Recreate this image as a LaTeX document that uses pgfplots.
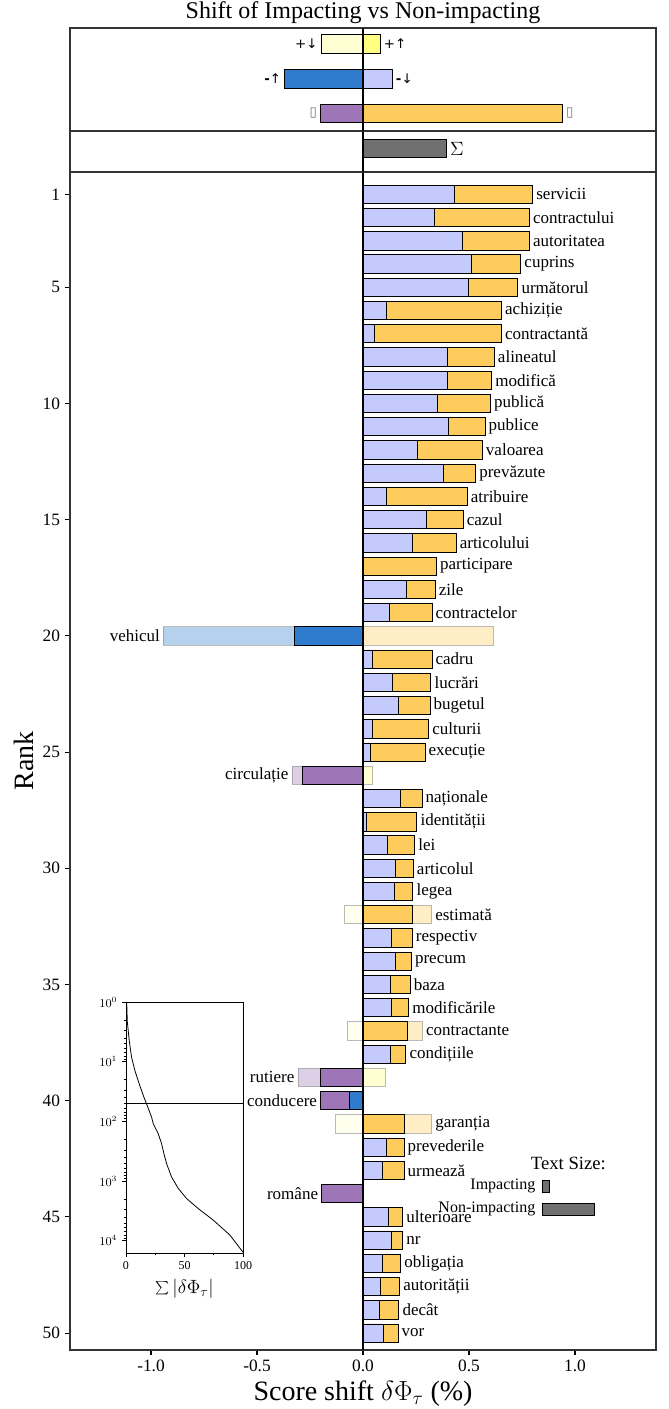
\documentclass[border=0pt]{standalone}
\usepackage{pgfplots}
\pgfplotsset{compat=1.18}
\usepackage{pgfplotstable}
\usepackage{fontspec}
\setmainfont{Liberation Serif}
\newfontfamily\symf{DejaVu Sans}
\newcommand\fs[1]{\fontsize{#1}{#1}\selectfont}
\definecolor{lav}{HTML}{C4CAFC}
\definecolor{orng}{HTML}{FECC5D}
\definecolor{purp}{HTML}{9E75B7}
\definecolor{dblue}{HTML}{2F7CCE}
\definecolor{yel}{HTML}{FFFF80}
\definecolor{lyel}{HTML}{FDFFD2}
\definecolor{totc}{HTML}{707070}

\pgfplotstableread{
rank lav tot word
1 0.430 0.800 servicii
2 0.335 0.785 contractului
3 0.467 0.785 autoritatea
4 0.509 0.744 cuprins
5 0.498 0.730 următorul
6 0.108 0.653 achiziție
7 0.055 0.653 contractantă
8 0.399 0.619 alineatul
9 0.397 0.607 modifică
10 0.351 0.601 publică
11 0.401 0.575 publice
12 0.256 0.5625 valoarea
13 0.377 0.531 prevăzute
14 0.108 0.491 atribuire
15 0.301 0.472 cazul
16 0.233 0.439 articolului
17 0.004 0.346 participare
18 0.204 0.340 zile
19 0.125 0.325 contractelor
21 0.042 0.325 cadru
22 0.138 0.320 lucrări
23 0.169 0.316 bugetul
24 0.042 0.309 culturii
25 0.033 0.292 execuție
27 0.178 0.278 naționale
28 0.015 0.254 identității
29 0.114 0.244 lei
30 0.153 0.237 articolul
31 0.147 0.235 legea
33 0.134 0.232 respectiv
34 0.153 0.228 precum
35 0.129 0.222 baza
36 0.136 0.215 modificările
38 0.127 0.202 condițiile
42 0.110 0.193 prevederile
43 0.090 0.193 urmează
45 0.118 0.1875 ulterioare
46 0.132 0.1875 nr
47 0.090 0.178 obligația
48 0.081 0.173 autorității
49 0.077 0.169 decât
50 0.094 0.165 vor
}\mainwords

\pgfplotstableread{
x y word
0.324 32 estimată
0.281 37 contractante
0.324 41 garanția
}\speclabR

\pgfplotstableread{
x y word
-0.941 20 vehicul
-0.335 26 circulație
-0.307 39 rutiere
-0.200 40 conducere
-0.195 44 române
}\speclabL

\pgfplotsset{
  wbar/.style={xbar, bar shift=0pt, bar width=13.7pt, draw=black, line width=0.6pt},
  fbar/.style={xbar, bar shift=0pt, bar width=13.7pt, draw=black!45, line width=0.6pt, fill opacity=0.35, draw opacity=0.6},
  frame/.style={axis line style={black!80, line width=0.9pt}},
  nR/.style={every node near coord/.append style={anchor=west, font=#1, text=black, inner sep=2.5pt}},
  nL/.style={every node near coord/.append style={anchor=east, font=#1, text=black, inner sep=2.5pt}},
}

\begin{document}
\begin{tikzpicture}
\path[use as bounding box] (-52.5pt,-44.25pt) rectangle (448.5pt,1012.5pt);

% ---------------- main panel ----------------
\begin{axis}[at={(0,0)}, anchor=south west, scale only axis,
  width=439.5pt, height=883.5pt, frame,
  xmin=-1.382, xmax=1.382, ymin=0.04, ymax=50.73, y dir=reverse,
  xtick={-1,-0.5,0,0.5,1}, xticklabels={-1.0,-0.5,0.0,0.5,1.0},
  ytick={1,5,10,15,20,25,30,35,40,45,50},
  yticklabels={1,5,10,15,20,25,30,35,40,45,50},
  tick align=outside, xtick pos=left, ytick pos=left,
  major tick length=4pt, tick style={black, line width=0.8pt},
  ticklabel style={font=\fs{13}},
  xlabel={Score shift $\delta\Phi_\tau$ (\%)}, ylabel={Rank},
  label style={font=\fs{21}},
  clip=false]
% faded components
\addplot[fbar, fill=dblue] coordinates {(-0.941,20)};
\addplot[fbar, fill=orng] coordinates {(0.614,20) (0.324,32) (0.281,37) (0.324,41)};
\addplot[fbar, fill=purp] coordinates {(-0.335,26) (-0.307,39)};
\addplot[fbar, fill=yel] coordinates {(0.046,26) (0.107,39)};
\addplot[fbar, fill=yel!40] coordinates {(-0.090,32) (-0.075,37) (-0.129,41)};
% solid components
\addplot[wbar, fill=orng] coordinates {(0.235,32) (0.208,37) (0.197,41)};
\addplot[wbar, fill=purp] coordinates {(-0.287,26) (-0.200,39) (-0.200,40) (-0.195,44)};
\addplot[wbar, fill=dblue] coordinates {(-0.325,20) (-0.0625,40)};
% regular words
\addplot[wbar, fill=orng, nodes near coords, point meta=explicit symbolic, nR=\fs{12.75}]
  table[x=tot, y=rank, meta=word] {\mainwords};
\addplot[wbar, fill=lav] table[x=lav, y=rank] {\mainwords};
% labels of special words
\addplot[xbar, bar shift=0pt, bar width=13.7pt, draw=none, fill=none,
  nodes near coords, point meta=explicit symbolic, nR=\fs{12.75}]
  table[x=x, y=y, meta=word] {\speclabR};
\addplot[xbar, bar shift=0pt, bar width=13.7pt, draw=none, fill=none,
  nodes near coords, point meta=explicit symbolic, nL=\fs{12.75}]
  table[x=x, y=y, meta=word] {\speclabL};
% text size legend
\addplot[fill=totc, draw=black, line width=0.6pt] coordinates {(0.846,43.43) (0.881,43.43) (0.881,43.95) (0.846,43.95)} -- cycle;
\addplot[fill=totc, draw=black, line width=0.6pt] coordinates {(0.846,44.41) (1.092,44.41) (1.092,44.93) (0.846,44.93)} -- cycle;
\node[font=\fs{14}] at (axis cs:0.969,42.7) {Text Size:};
\node[font=\fs{12}, anchor=east] at (axis cs:0.835,43.69) {Impacting};
\node[font=\fs{12}, anchor=east] at (axis cs:0.835,44.67) {Non-impacting};
% zero line
\addplot[black, line width=1pt] coordinates {(0,0.04) (0,50.73)};
\end{axis}

% ---------------- inset ----------------
\begin{axis}[at={(42pt,72.75pt)}, anchor=south west, scale only axis,
  width=87.75pt, height=188.25pt,
  axis background/.style={fill=white},
  axis line style={black, line width=0.7pt},
  xmin=0, xmax=100, ymode=log, ymin=1, ymax=16000, y dir=reverse,
  xtick={0,50,100}, xticklabels={0,50,100}, minor xtick={25,75},
  tick align=outside, xtick pos=left, ytick pos=left,
  major tick length=3pt, minor tick length=1.8pt,
  tick style={black, line width=0.5pt},
  ticklabel style={font=\fs{9}},
  xlabel={$\sum|\delta\Phi_\tau|$}, xlabel style={font=\fs{14}}]
\addplot[black, line width=0.6pt] coordinates {
(0.6,1) (1.1,2.1) (2.8,4.5) (4.8,8.5) (7.7,14.3) (11.4,23.8) (14.8,37)
(17.6,51) (21.9,85) (23.3,110) (27.6,162) (30.4,236) (32.4,347) (34.7,510)
(38.9,850) (44.6,1320) (51.7,1950) (61.6,2870) (74.4,4470) (88.6,7940) (100,15500)};
\addplot[black, line width=0.6pt] coordinates {(0,50) (100,50)};
\end{axis}

% ---------------- sum panel ----------------
\begin{axis}[at={(0,883.5pt)}, anchor=south west, scale only axis,
  width=439.5pt, height=30.75pt, frame,
  xmin=-1.382, xmax=1.382, ymin=0, ymax=1, y dir=reverse, ticks=none, clip=false]
\addplot[wbar, fill=totc, nodes near coords={$\Sigma$}, nR=\fs{14}]
  coordinates {(0.393,0.43)};
\addplot[black, line width=1pt] coordinates {(0,0) (0,1)};
\end{axis}

% ---------------- top panel ----------------
\begin{axis}[at={(0,914.25pt)}, anchor=south west, scale only axis,
  width=439.5pt, height=77.25pt, frame,
  xmin=-1.382, xmax=1.382, ymin=0.55, ymax=3.5, y dir=reverse, ticks=none, clip=false]
\addplot[wbar, bar width=14pt, fill=lyel, nodes near coords={+↓}, nL=\symf\fs{10}]
  coordinates {(-0.197,1)};
\addplot[wbar, bar width=14pt, fill=yel, nodes near coords={+↑}, nR=\symf\fs{10}]
  coordinates {(0.081,1)};
\addplot[wbar, bar width=14pt, fill=dblue, nodes near coords={\textbf{-}↑}, nL=\symf\fs{10}]
  coordinates {(-0.369,2)};
\addplot[wbar, bar width=14pt, fill=lav, nodes near coords={\textbf{-}↓}, nR=\symf\fs{10}]
  coordinates {(0.138,2)};
\addplot[wbar, bar width=14pt, fill=purp, nodes near coords={\textcolor{black!55}{▯}}, nL=\symf\fs{10}]
  coordinates {(-0.200,3)};
\addplot[wbar, bar width=14pt, fill=orng, nodes near coords={\textcolor{black!55}{▯}}, nR=\symf\fs{10}]
  coordinates {(0.941,3)};
\addplot[black, line width=1pt] coordinates {(0,0.55) (0,3.5)};
\end{axis}

\node[font=\fs{18}] at (219.75pt,1002.75pt) {Shift of Impacting vs Non-impacting};
\end{tikzpicture}
\end{document}
